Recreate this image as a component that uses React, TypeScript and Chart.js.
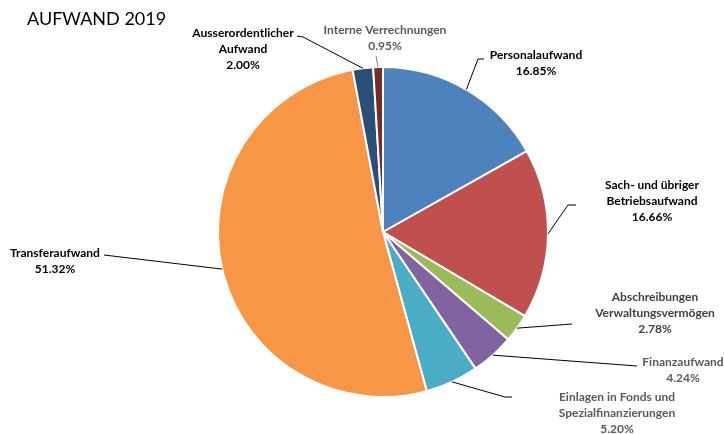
import React, { useEffect, useRef } from "react";
import { Chart, registerables } from "chart.js";

Chart.register(...registerables);

const TITLE = "AUFWAND 2019";
const CATEGORIES: string[][] = [
  ["Personalaufwand"],
  ["Sach- und übriger", "Betriebsaufwand"],
  ["Abschreibungen", "Verwaltungsvermögen"],
  ["Finanzaufwand"],
  ["Einlagen in Fonds und", "Spezialfinanzierungen"],
  ["Transferaufwand"],
  ["Ausserordentlicher", "Aufwand"],
  ["Interne Verrechnungen"],
];
const VALUES: number[] = [16.85, 16.66, 2.78, 4.24, 5.2, 51.32, 2.0, 0.95];
const COLORS: string[] = ["#4F81BD", "#C0504D", "#9BBB59", "#8064A2", "#4BACC6", "#F79646", "#2C4D75", "#772C2A"];

// label layout: text centre x, first line y, leader elbow points, text colour
const LABEL_LAYOUT = [
  { x: 536, y: 55, pts: [[478, 59], [484, 59]], color: "#000000" },
  { x: 652, y: 185, pts: [[568, 205], [576, 205]], color: "#000000" },
  { x: 655, y: 297, pts: [[572, 324]], color: "#404040" },
  { x: 683, y: 362, pts: [[637, 366]], color: "#595959" },
  { x: 617, y: 397, pts: [[505, 397], [512, 397]], color: "#595959" },
  { x: 55, y: 253, pts: [[104, 255]], color: "#000000" },
  { x: 243, y: 33, pts: [[303, 37], [297, 36]], color: "#000000" },
  { x: 385, y: 30, pts: [[376, 56]], color: "#595959", lineColor: "#7f7f7f" },
];

const FONT = "Lato, 'Open Sans', sans-serif";

const labelPlugin = {
  id: "pieLabels",
  afterDraw(chart: any) {
    const ctx = chart.ctx;
    ctx.save();
    ctx.fillStyle = "#000000";
    ctx.font = `18px ${FONT}`;
    ctx.textAlign = "left";
    ctx.textBaseline = "middle";
    ctx.fillText(TITLE, 27, 19);

    const meta = chart.getDatasetMeta(0);
    meta.data.forEach((arc: any, i: number) => {
      const p = arc.getProps(["x", "y", "startAngle", "endAngle", "outerRadius"], true);
      const mid = (p.startAngle + p.endAngle) / 2;
      const ax = p.x + Math.cos(mid) * p.outerRadius;
      const ay = p.y + Math.sin(mid) * p.outerRadius;
      const lay = LABEL_LAYOUT[i];
      ctx.strokeStyle = (lay as any).lineColor || "#000000";
      ctx.lineWidth = 1;
      ctx.beginPath();
      ctx.moveTo(ax, ay);
      lay.pts.forEach((pt) => ctx.lineTo(pt[0], pt[1]));
      ctx.stroke();

      ctx.fillStyle = lay.color;
      ctx.font = `bold 12px ${FONT}`;
      ctx.textAlign = "center";
      ctx.textBaseline = "middle";
      const lines = [...CATEGORIES[i], VALUES[i].toFixed(2) + "%"];
      lines.forEach((ln, k) => ctx.fillText(ln, lay.x, lay.y + k * 16));
    });
    ctx.restore();
  },
};

export default function App() {
  const ref = useRef<HTMLCanvasElement>(null);
  useEffect(() => {
    document.body.style.margin = "0";
    const chart = new Chart(ref.current!, {
      type: "pie",
      data: {
        labels: CATEGORIES.map((c) => c.join(" ")),
        datasets: [
          {
            data: VALUES,
            backgroundColor: COLORS,
            borderColor: "#ffffff",
            borderWidth: 2,
            hoverOffset: 0,
          },
        ],
      },
      options: {
        animation: false,
        responsive: false,
        layout: { padding: { top: 66, bottom: 36, left: 217, right: 175 } },
        plugins: { legend: { display: false }, tooltip: { enabled: false }, title: { display: false } },
      },
      plugins: [labelPlugin],
    });
    return () => chart.destroy();
  }, []);
  return (
    <div style={{ width: 724, height: 434, background: "#fff" }}>
      <canvas ref={ref} width={724} height={434} />
    </div>
  );
}
